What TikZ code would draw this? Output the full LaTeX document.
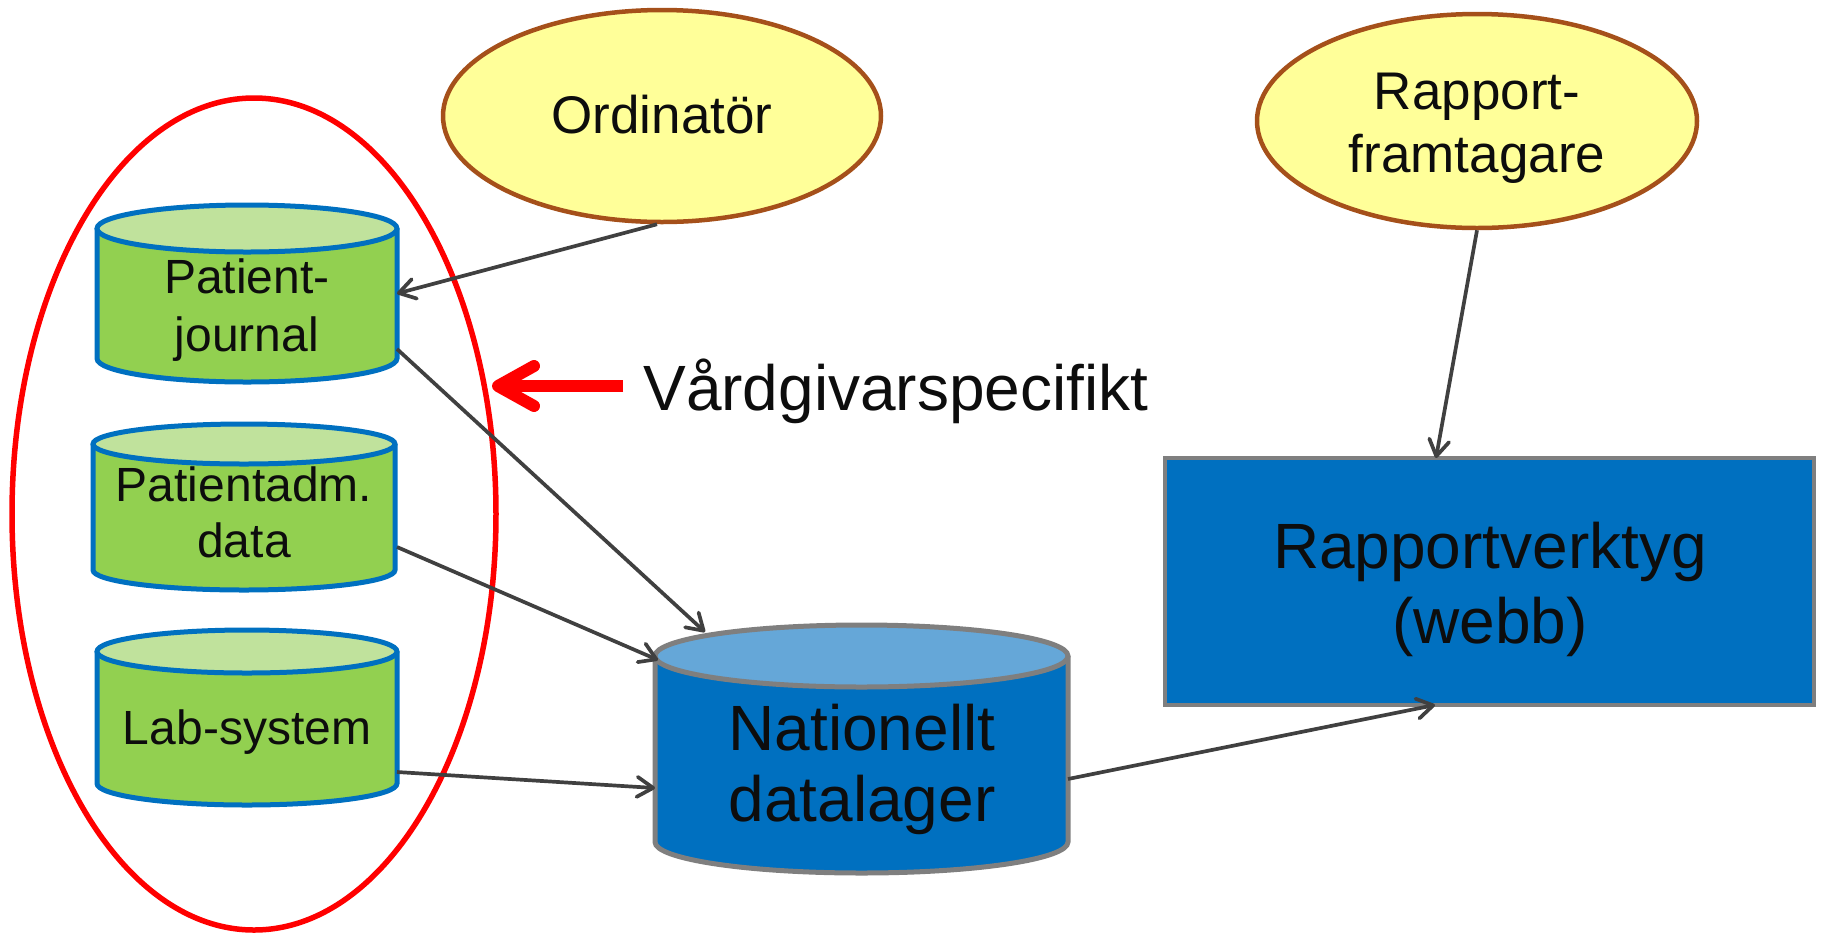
\documentclass[tikz,border=0pt]{standalone}
\usepackage{fontspec}
\setmainfont{Liberation Sans}
\usetikzlibrary{arrows.meta,calc,shapes.geometric}
\definecolor{grbody}{HTML}{92D050}
\definecolor{grtop}{HTML}{C0E29C}
\definecolor{cylborder}{HTML}{0070C0}
\definecolor{ndbody}{HTML}{0070C0}
\definecolor{ndtop}{HTML}{65A7D8}
\definecolor{grayborder}{HTML}{7F7F7F}
\definecolor{actorfill}{HTML}{FFFF99}
\definecolor{actorborder}{HTML}{A5501A}
\definecolor{linegray}{HTML}{404040}
\definecolor{txtcol}{HTML}{0D0D0D}
\newcommand\dbcyl[9]{%
  \fill[#7] (#1,#3) -- (#1,#4) arc[start angle=180,end angle=360,x radius=#5pt,y radius=#6pt] -- (#2,#3) -- cycle;
  \draw[#9, line width=2.5pt] (#1,#3) -- (#1,#4) arc[start angle=180,end angle=360,x radius=#5pt,y radius=#6pt] -- (#2,#3);
  \filldraw[fill=#8, draw=#9, line width=2.5pt] ({(#1+#2)/2},#3) ellipse[x radius=#5pt, y radius=#6pt];
}
\begin{document}
\begin{tikzpicture}[x=0.5pt,y=-0.5pt,
  conn/.style={draw=linegray, line width=1.85pt, -{Straight Barb[length=8pt,width=10pt,round]}},
  cyltext/.style={font=\fontsize{24pt}{29pt}\selectfont, align=center, inner sep=0, text=txtcol},
  bigtext/.style={font=\fontsize{32pt}{36pt}\selectfont, align=center, inner sep=0, text=txtcol},
  elltext/.style={font=\fontsize{26.5pt}{31.5pt}\selectfont, align=center, inner sep=0, text=txtcol},
  body/.style={inner sep=0, outer sep=0},
  actor/.style={ellipse, draw=actorborder, fill=actorfill, line width=2.25pt, inner sep=0}]
\useasboundingbox (0,0) rectangle (1822,933);

% red grouping ellipse
\node[ellipse, draw=red, line width=2.75pt, minimum width=242pt, minimum height=416pt, inner sep=0] (re) at (254,514) {};

% cylinders
\dbcyl{97}{397}{228.5}{358.5}{75}{11.75}{grbody}{grtop}{cylborder}
\node[body, minimum width=150pt, minimum height=88.5pt] (pjb) at (247,293.5) {};
\node[cyltext] (pj) at (247,310) {Patient-\\journal};

\dbcyl{93}{395}{444}{570}{75.5}{10}{grbody}{grtop}{cylborder}
\node[body, minimum width=151pt, minimum height=83pt] (pab) at (244,507) {};
\node[cyltext, font=\fontsize{24pt}{28pt}\selectfont] (pa) at (244,512) {Patientadm.\\data};

\dbcyl{97}{397}{651.5}{783.5}{75}{10.75}{grbody}{grtop}{cylborder}
\node[body, minimum width=150pt, minimum height=87.5pt] (labb) at (247,717.5) {};
\node[cyltext] (lab) at (247,732.5) {Lab-system};

\dbcyl{655}{1068}{656}{842}{103.25}{15.5}{ndbody}{ndtop}{grayborder}
\node[body, minimum width=206.5pt, minimum height=124pt] (ndb) at (861.5,749) {};
\node[bigtext, font=\fontsize{32pt}{35.5pt}\selectfont] (nd) at (862,769) {Nationellt\\datalager};

% report tool box
\node[body, draw=grayborder, fill=ndbody, line width=2.25pt, minimum width=324.5pt, minimum height=123.5pt] (rv) at (1489.5,581.5) {};
\node[bigtext, font=\fontsize{32pt}{37.5pt}\selectfont] (rvt) at (1490,589) {Rapportverktyg\\(webb)};

% actors
\node[actor, minimum width=219pt, minimum height=106pt] (ord) at (662,116) {};
\node[elltext] (ordt) at (662,115) {Ordinatör};
\node[actor, minimum width=220pt, minimum height=107pt] (rf) at (1477,121) {};
\node[elltext] (rft) at (1477,128) {Rapport-\\framtagare};

% label
\node[font=\fontsize{32pt}{36pt}\selectfont, anchor=base west, inner sep=0, text=txtcol] (vs) at (643,410) {Vårdgivarspecifikt};
\draw[red, line width=6pt, -{Straight Barb[length=18pt,width=20pt,round]}] ($(vs.base west)+(-20,-24)$) -- ($(re.center)+(238,-128)$);

% connectors
\draw[conn] ($(ord.south)+(-5,0)$) -- (pjb.east);
\draw[conn] ($(pjb.east)+(0,55.5)$) -- ($(ndb.north)+(-156.5,7)$);
\draw[conn] ($(pab.east)+(2,40)$) -- ($(ndb.west)+(3,-89)$);
\draw[conn] ($(labb.east)+(0,54.5)$) -- ($(ndb.west)+(0,39)$);
\draw[conn] ($(ndb.east)+(0,30)$) -- ($(rv.south)+(-54.5,0)$);
\draw[conn] (rf.south) -- ($(rv.north)+(-53.5,0)$);
\end{tikzpicture}
\end{document}
